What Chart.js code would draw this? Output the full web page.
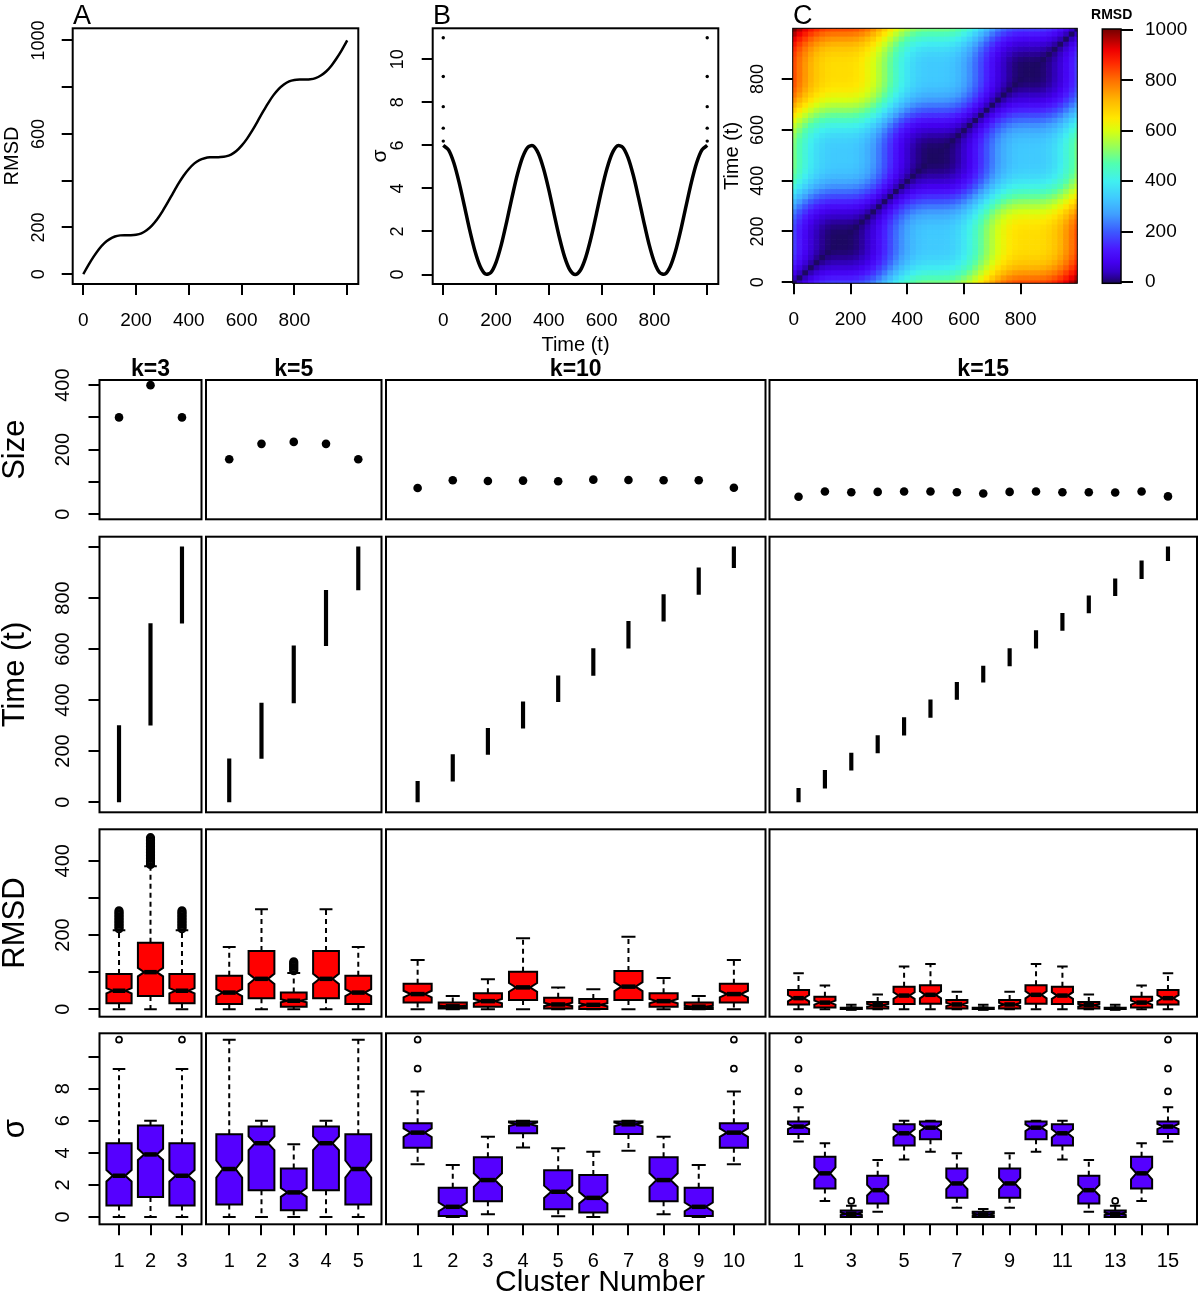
<!DOCTYPE html>
<html>
<head>
<meta charset="utf-8">
<title>Cluster analysis of a simulated trajectory</title>
<script src="https://cdn.jsdelivr.net/npm/chart.js@4.4.1/dist/chart.umd.min.js"></script>
<style>
  html, body { margin: 0; padding: 0; background: #fff; }
  #page { position: relative; width: 1200px; height: 1300px; overflow: hidden; background: #fff; }
  #page canvas { position: absolute; }
</style>
</head>
<body>
<div id="page"></div>
<script>
// ---------- values ----------
// panels A/B: frames sampled every 20 time steps
const timeGrid = [0, 20, 40, 60, 80, 100, 120, 140, 160, 180, 200, 220, 240, 260, 280, 300, 320, 340, 360, 380,
  400, 420, 440, 460, 480, 500, 520, 540, 560, 580, 600, 620, 640, 660, 680, 700, 720, 740, 760, 780,
  800, 820, 840, 860, 880, 900, 920, 940, 960, 980, 1000];
const rmsdCurve = [0, 40, 76, 108, 133, 150, 161, 166, 167, 167, 169, 175, 188, 208, 235, 269, 307, 347, 386, 421,
  450, 473, 488, 496, 500, 500, 501, 504, 512, 527, 550, 579, 614, 653, 693, 731, 765, 792, 812, 825,
  831, 833, 833, 834, 839, 850, 867, 892, 924, 960, 1000];
const sigmaCurve = [6.00, 5.79, 5.19, 4.28, 3.19, 2.07, 1.09, 0.37, 0.02, 0.09, 0.57, 1.39, 2.44, 3.56, 4.61, 5.43, 5.91, 5.98, 5.63, 4.91,
  3.93, 2.81, 1.72, 0.81, 0.21, 0.00, 0.21, 0.81, 1.72, 2.81, 3.93, 4.91, 5.63, 5.98, 5.91, 5.43, 4.61, 3.56, 2.44, 1.39,
  0.57, 0.09, 0.02, 0.37, 1.09, 2.07, 3.19, 4.28, 5.19, 5.79, 6.00];
const sigmaEdgeTimes = [0, 1000];
const sigmaEdgeDots = [6.2, 6.8, 7.8, 9.2, 11.0];

// cluster numbers (x ticks) and their labels
const clustersK3 = [1, 2, 3];
const clustersK5 = [1, 2, 3, 4, 5];
const clustersK10 = [1, 2, 3, 4, 5, 6, 7, 8, 9, 10];
const clustersK15 = [1, 2, 3, 4, 5, 6, 7, 8, 9, 10, 11, 12, 13, 14, 15];
const clusterLabelsK15 = ['1', '', '3', '', '5', '', '7', '', '9', '', '11', '', '13', '', '15'];

// cluster sizes
const sizeK3 = [300, 400, 300];
const sizeK5 = [170, 218, 224, 218, 170];
const sizeK10 = [81, 105, 103, 104, 102, 107, 106, 105, 105, 82];
const sizeK15 = [54, 70, 68, 69, 70, 70, 68, 64, 69, 70, 68, 68, 67, 70, 55];

// time span of every cluster [first, last]
const timeK3 = [[1, 300], [301, 700], [701, 1000]];
const timeK5 = [[1, 170], [171, 388], [389, 612], [613, 830], [831, 1000]];
const timeK10 = [[1, 81], [82, 186], [187, 289], [290, 393], [394, 495], [496, 602], [603, 708], [709, 813], [814, 918], [919, 1000]];
const timeK15 = [[1, 54], [55, 124], [125, 192], [193, 261], [262, 331], [332, 401], [402, 469], [470, 533],
  [534, 602], [603, 672], [673, 740], [741, 808], [809, 875], [876, 945], [946, 1000]];

// boxplots: [lower whisker, Q1, median, Q3, upper whisker]
const rmsdBoxK3 = [[0, 16, 50, 95, 213], [0, 36, 100, 179, 385], [0, 16, 50, 95, 213]];
const rmsdOutK3 = [
  [217, 221, 225, 229, 233, 237, 241, 245, 249, 253, 257, 261, 265],
  [390, 394, 398, 402, 406, 410, 414, 418, 422, 426, 430, 434, 438, 442, 446, 450, 454, 458, 462],
  [217, 221, 225, 229, 233, 237, 241, 245, 249, 253, 257, 261, 265]];
const rmsdBoxK5 = [[0, 14, 45, 90, 168], [0, 30, 82, 157, 269], [0, 7, 23, 45, 98], [0, 30, 82, 157, 269], [0, 14, 45, 90, 168]];
const rmsdOutK5 = [[], [], [104, 108, 112, 116, 120, 124, 128], [], []];
const rmsdBoxK10 = [[0, 18, 41, 69, 133], [0, 2, 8, 18, 36], [0, 7, 22, 43, 81], [0, 25, 59, 101, 191], [0, 2, 13, 31, 59],
  [0, 1, 12, 28, 54], [0, 25, 61, 103, 195], [0, 7, 22, 43, 84], [0, 1, 7, 18, 36], [0, 18, 41, 69, 133]];
const rmsdOutK10 = [];
const rmsdBoxK15 = [[0, 13, 30, 52, 97], [0, 5, 18, 34, 64], [0, 0.5, 2, 4, 12], [0, 2, 11, 20, 40], [0, 14, 37, 61, 115],
  [0, 15, 39, 65, 122], [0, 2, 13, 25, 47], [0, 0.5, 2, 4, 12], [0, 2, 13, 25, 47], [0, 15, 39, 65, 122],
  [0, 14, 37, 61, 115], [0, 2, 11, 20, 40], [0, 0.5, 2, 4, 12], [0, 5, 18, 34, 64], [0, 13, 30, 52, 97]];
const rmsdOutK15 = [];

const sigmaBoxK3 = [[0, 0.71, 2.57, 4.6, 9.23], [0, 1.25, 3.9, 5.7, 6.0], [0, 0.71, 2.57, 4.6, 9.23]];
const sigmaOutK3 = [[11.06], [], [11.06]];
const sigmaBoxK5 = [[0, 0.78, 2.99, 5.16, 11.06], [0, 1.67, 4.6, 5.64, 6.0], [0, 0.42, 1.53, 3.03, 4.53],
  [0, 1.67, 4.6, 5.64, 6.0], [0, 0.78, 2.99, 5.16, 11.06]];
const sigmaOutK5 = [];
const sigmaBoxK10 = [[3.28, 4.32, 5.26, 5.85, 7.83], [0, 0.06, 0.63, 1.82, 3.24], [0.17, 0.98, 2.3, 3.72, 5.01],
  [4.34, 5.22, 5.78, 5.95, 6.0], [0.04, 0.48, 1.57, 2.92, 4.28], [0, 0.27, 1.19, 2.61, 4.07], [4.13, 5.18, 5.78, 5.95, 6.0],
  [0.17, 0.98, 2.3, 3.72, 5.01], [0, 0.06, 0.63, 1.82, 3.24], [3.28, 4.32, 5.26, 5.85, 7.83]];
const sigmaOutK10 = [[9.25, 11.06], [], [], [], [], [], [], [], [], [9.25, 11.06]];
const sigmaBoxK15 = [[4.7, 5.18, 5.64, 5.95, 6.85], [1.0, 1.78, 2.72, 3.76, 4.6], [0, 0, 0.2, 0.4, 0.7],
  [0.33, 0.84, 1.67, 2.57, 3.55], [3.59, 4.45, 5.22, 5.78, 6.0], [4.07, 4.85, 5.57, 5.95, 6.0], [0.57, 1.19, 2.09, 3.03, 3.97],
  [0, 0, 0.15, 0.33, 0.5], [0.57, 1.19, 2.09, 3.03, 3.97], [4.07, 4.85, 5.57, 5.95, 6.0], [3.59, 4.45, 5.22, 5.78, 6.0],
  [0.33, 0.84, 1.67, 2.57, 3.55], [0, 0, 0.2, 0.4, 0.7], [1.0, 1.78, 2.72, 3.76, 4.6], [4.7, 5.18, 5.64, 5.95, 6.85]];
const sigmaOutK15 = [[7.83, 9.25, 11.06], [], [1.0], [], [], [], [], [], [], [], [], [], [1.0], [], [7.83, 9.25, 11.06]];

// colour ramp of the RMSD matrix
const heatStops = [[0, '#1c0862'], [15, '#280090'], [40, '#3400c6'], [80, '#4400f0'], [130, '#4a18ff'], [200, '#3c5aff'],
  [270, '#40a0ff'], [330, '#40c8ff'], [400, '#40f0f0'], [470, '#50ffb0'], [530, '#90ff60'], [600, '#d8ff10'],
  [650, '#ffe800'], [720, '#ffb800'], [800, '#ff7000'], [870, '#ff2800'], [920, '#f00000'], [1000, '#7a0000']];

// ---------- drawing ----------
const FONT = "'Liberation Sans', Arial, Helvetica, sans-serif";
Chart.defaults.font.family = FONT;
Chart.defaults.color = '#000';
const page = document.getElementById('page');

function hexRgb(h) {
  return [parseInt(h.slice(1, 3), 16), parseInt(h.slice(3, 5), 16), parseInt(h.slice(5, 7), 16)];
}
function heatColor(v) {
  v = Math.max(0, Math.min(1000, v));
  for (let i = 1; i < heatStops.length; i++) {
    if (v <= heatStops[i][0]) {
      const [v0, c0] = heatStops[i - 1], [v1, c1] = heatStops[i];
      const f = (v - v0) / (v1 - v0), a = hexRgb(c0), b = hexRgb(c1);
      return 'rgb(' + a.map((x, k) => Math.round(x + (b[k] - x) * f)).join(',') + ')';
    }
  }
  return heatStops[heatStops.length - 1][1];
}

function drawHeat(chart) {
  const ctx = chart.ctx, a = chart.chartArea, xs = chart.scales.x, ys = chart.scales.y;
  const half = 10;
  ctx.save();
  ctx.beginPath();
  ctx.rect(a.left, a.top, a.right - a.left, a.bottom - a.top);
  ctx.clip();
  timeGrid.forEach((ti, i) => {
    const x0 = xs.getPixelForValue(ti - half), x1 = xs.getPixelForValue(ti + half);
    timeGrid.forEach((tj, j) => {
      const y0 = ys.getPixelForValue(tj + half), y1 = ys.getPixelForValue(tj - half);
      ctx.fillStyle = heatColor(Math.abs(rmsdCurve[i] - rmsdCurve[j]));
      ctx.fillRect(x0, y0, x1 - x0 + 0.7, y1 - y0 + 0.7);
    });
  });
  ctx.restore();
}

function drawColorbar(chart) {
  const ctx = chart.ctx, a = chart.chartArea, ys = chart.scales.y;
  const g = ctx.createLinearGradient(0, ys.getPixelForValue(0), 0, ys.getPixelForValue(1000));
  heatStops.forEach(([v, c]) => g.addColorStop(v / 1000, c));
  ctx.fillStyle = g;
  ctx.fillRect(a.left, a.top, a.right - a.left, a.bottom - a.top);
}

function drawBoxes(chart, bx) {
  const ctx = chart.ctx, xs = chart.scales.x, ys = chart.scales.y;
  const py = v => ys.getPixelForValue(v);
  ctx.save();
  ctx.strokeStyle = '#000';
  bx.stats.forEach((s, i) => {
    const [lo, q1, med, q3, hi] = s;
    const x = i + 1;
    const cx = xs.getPixelForValue(x);
    const hw = xs.getPixelForValue(x + 0.4) - cx;
    const sw = xs.getPixelForValue(x + 0.2) - cx;
    // notch as in R: median +/- 1.58 IQR / sqrt(n)
    const nd = 1.58 * (q3 - q1) / Math.sqrt(bx.sizes[i]);
    ctx.lineWidth = 2;
    ctx.setLineDash([5, 4]);
    ctx.beginPath();
    ctx.moveTo(cx, py(q3)); ctx.lineTo(cx, py(hi));
    ctx.moveTo(cx, py(q1)); ctx.lineTo(cx, py(lo));
    ctx.stroke();
    ctx.setLineDash([]);
    ctx.beginPath();
    ctx.moveTo(cx - sw, py(hi)); ctx.lineTo(cx + sw, py(hi));
    ctx.moveTo(cx - sw, py(lo)); ctx.lineTo(cx + sw, py(lo));
    ctx.stroke();
    ctx.beginPath();
    ctx.moveTo(cx - hw, py(q1)); ctx.lineTo(cx - hw, py(med - nd)); ctx.lineTo(cx - hw / 2, py(med));
    ctx.lineTo(cx - hw, py(med + nd)); ctx.lineTo(cx - hw, py(q3));
    ctx.lineTo(cx + hw, py(q3)); ctx.lineTo(cx + hw, py(med + nd)); ctx.lineTo(cx + hw / 2, py(med));
    ctx.lineTo(cx + hw, py(med - nd)); ctx.lineTo(cx + hw, py(q1));
    ctx.closePath();
    ctx.fillStyle = bx.fill;
    ctx.fill();
    ctx.stroke();
    ctx.lineWidth = 4.5;
    ctx.beginPath();
    ctx.moveTo(cx - hw / 2, py(med)); ctx.lineTo(cx + hw / 2, py(med));
    ctx.stroke();
    ctx.lineWidth = bx.outW;
    (bx.outliers[i] || []).forEach(v => {
      ctx.beginPath();
      ctx.arc(cx, py(v), bx.outR, 0, Math.PI * 2);
      ctx.stroke();
    });
  });
  ctx.restore();
}

function drawText(ctx, p, t) {
  ctx.save();
  ctx.translate(t.x - p.offX, t.y - p.offY);
  if (t.rot) ctx.rotate(-Math.PI / 2);
  ctx.font = (t.bold ? 'bold ' : '') + t.size + 'px ' + FONT;
  ctx.fillStyle = '#000';
  ctx.textAlign = t.align || 'center';
  ctx.textBaseline = t.base || 'middle';
  ctx.fillText(t.t, 0, 0);
  ctx.restore();
}

const rDecor = {
  id: 'rDecor',
  beforeDatasetsDraw(chart) {
    const p = chart.canvas._panel;
    if (p && p.heat) drawHeat(chart);
    if (p && p.colorbar) drawColorbar(chart);
  },
  afterDatasetsDraw(chart) {
    const p = chart.canvas._panel;
    if (p && p.boxes) drawBoxes(chart, p.boxes);
  },
  afterDraw(chart) {
    const p = chart.canvas._panel;
    if (!p) return;
    const ctx = chart.ctx, a = chart.chartArea;
    if (p.frame) {
      ctx.save();
      ctx.lineWidth = p.frame;
      ctx.strokeStyle = '#000';
      ctx.strokeRect(a.left, a.top, a.right - a.left, a.bottom - a.top);
      ctx.restore();
    }
    // R style y tick labels, turned 90 degrees
    if (p.y.ticks && p.y.off) {
      const ys = chart.scales.y;
      ctx.save();
      ctx.font = (p.y.size || 18) + 'px ' + FONT;
      ctx.fillStyle = '#000';
      ctx.textAlign = 'center';
      ctx.textBaseline = 'middle';
      p.y.ticks.forEach((v, i) => {
        const lab = p.y.labels ? p.y.labels[i] : String(v);
        if (!lab) return;
        ctx.save();
        ctx.translate(a.left - p.y.off, ys.getPixelForValue(v));
        ctx.rotate(-Math.PI / 2);
        ctx.fillText(lab, 0, 0);
        ctx.restore();
      });
      ctx.restore();
    }
    (p.texts || []).forEach(t => drawText(ctx, p, t));
  }
};
Chart.register(rDecor);

function panel(cfg) {
  const b = cfg.box, m = cfg.margin;
  const left = Math.floor(b.l - m.l), top = Math.floor(b.t - m.t);
  const w = Math.ceil(b.r + m.r) - left, h = Math.ceil(b.b + m.b) - top;
  const ml = b.l - left, mt = b.t - top, mr = left + w - b.r, mb = top + h - b.b;
  const c = document.createElement('canvas');
  c.width = w; c.height = h;
  Object.assign(c.style, { left: left + 'px', top: top + 'px', width: w + 'px', height: h + 'px' });
  page.appendChild(c);
  c._panel = Object.assign({ offX: left, offY: top }, cfg);

  const yRight = cfg.y.position === 'right';
  const xShow = !!cfg.x.ticks, yShow = !!cfg.y.ticks;
  const axis = (ax, isX) => {
    const show = !!ax.ticks;
    const o = {
      type: 'linear', min: ax.min, max: ax.max, display: show, offset: false,
      position: isX ? 'bottom' : (ax.position || 'left'),
      ticks: {
        display: isX ? true : !!ax.native, autoSkip: false, maxRotation: 0, minRotation: 0,
        padding: ax.pad !== undefined ? ax.pad : 14, font: { size: ax.size || 18 }, color: '#000',
        callback: (val, idx) => (ax.labels ? ax.labels[idx] : String(val))
      },
      grid: { display: true, offset: false, drawOnChartArea: false, drawTicks: true, tickLength: ax.tickLen || 11, color: '#000', lineWidth: 2 },
      border: { display: false }
    };
    if (show) {
      o.afterBuildTicks = s => { s.ticks = ax.ticks.map(v => ({ value: v })); };
      o.afterFit = s => {
        if (isX) { s.height = mb; s.paddingLeft = 0; s.paddingRight = 0; }
        else { s.width = yRight ? mr : ml; s.paddingTop = 0; s.paddingBottom = 0; }
      };
    }
    return o;
  };

  return new Chart(c, {
    type: 'scatter',
    data: { datasets: cfg.datasets || [] },
    options: {
      responsive: false,
      animation: false,
      events: [],
      layout: {
        autoPadding: false,
        padding: {
          left: yShow && !yRight ? 0 : ml,
          right: yShow && yRight ? 0 : mr,
          top: mt,
          bottom: xShow ? 0 : mb
        }
      },
      plugins: { legend: { display: false }, tooltip: { enabled: false } },
      scales: { x: axis(cfg.x, true), y: axis(cfg.y, false) }
    }
  });
}

// ---------- top row ----------
panel({
  box: { l: 72.7, t: 28.3, r: 358.3, b: 284 }, margin: { l: 72.7, t: 28.3, r: 8, b: 52 },
  x: { min: -40, max: 1042, ticks: [0, 200, 400, 600, 800, 1000], labels: ['0', '200', '400', '600', '800', ''], size: 19 },
  y: { min: -42, max: 1052, ticks: [0, 200, 400, 600, 800, 1000], labels: ['0', '200', '', '600', '', '1000'], off: 33.7, size: 18 },
  frame: 2,
  datasets: [{
    data: timeGrid.map((t, i) => ({ x: t, y: rmsdCurve[i] })), showLine: true, borderColor: '#000',
    borderWidth: 2.5, pointRadius: 0, tension: 0.3
  }],
  texts: [
    { t: 'A', x: 73, y: 24, size: 27, align: 'left', base: 'alphabetic' },
    { t: 'RMSD', x: 12.5, y: 156, size: 20, rot: true }
  ]
});

panel({
  box: { l: 432.7, t: 28.3, r: 718.3, b: 284 }, margin: { l: 64, t: 28.3, r: 3, b: 72 },
  x: { min: -40, max: 1042, ticks: [0, 200, 400, 600, 800, 1000], labels: ['0', '200', '400', '600', '800', ''], size: 19 },
  y: { min: -0.44, max: 11.44, ticks: [0, 2, 4, 6, 8, 10], off: 35, size: 18 },
  frame: 2,
  datasets: [
    {
      data: timeGrid.map((t, i) => ({ x: t, y: sigmaCurve[i] })), showLine: true, borderColor: '#000',
      borderWidth: 3.5, pointRadius: 0, tension: 0.3
    },
    {
      data: sigmaEdgeTimes.flatMap(t => sigmaEdgeDots.map(v => ({ x: t, y: v }))),
      pointRadius: 1.7, pointBackgroundColor: '#000', pointBorderWidth: 0
    }
  ],
  texts: [
    { t: 'B', x: 433, y: 24, size: 27, align: 'left', base: 'alphabetic' },
    { t: 'σ', x: 380, y: 156, size: 21, rot: true },
    { t: 'Time (t)', x: 575.5, y: 345, size: 20 }
  ]
});

panel({
  box: { l: 792.7, t: 28.3, r: 1077.3, b: 283.3 }, margin: { l: 70, t: 28.3, r: 3, b: 52 },
  x: { min: -4, max: 1000, ticks: [0, 200, 400, 600, 800], size: 19 },
  y: { min: -4, max: 1000, ticks: [0, 200, 400, 600, 800], off: 35, size: 18 },
  frame: 1, heat: true,
  texts: [
    { t: 'C', x: 793, y: 24, size: 27, align: 'left', base: 'alphabetic' },
    { t: 'Time (t)', x: 732.5, y: 156, size: 20, rot: true }
  ]
});

panel({
  box: { l: 1102.3, t: 29, r: 1121, b: 283.3 }, margin: { l: 22, t: 29, r: 78, b: 6 },
  x: { min: 0, max: 1 },
  y: { min: -5, max: 1004, ticks: [0, 200, 400, 600, 800, 1000], position: 'right', native: true, pad: 12, tickLen: 12, size: 19 },
  frame: 1.5, colorbar: true,
  texts: [{ t: 'RMSD', x: 1111.7, y: 15, size: 14, bold: true }]
});

// ---------- cluster grid ----------
const cols = [
  { k: 3, l: 99.5, r: 201.5, min: 0.38, max: 3.62, ticks: clustersK3, labels: null, size: sizeK3, time: timeK3,
    rmsd: rmsdBoxK3, rmsdOut: rmsdOutK3, sigma: sigmaBoxK3, sigmaOut: sigmaOutK3 },
  { k: 5, l: 206, r: 381.5, min: 0.28, max: 5.72, ticks: clustersK5, labels: null, size: sizeK5, time: timeK5,
    rmsd: rmsdBoxK5, rmsdOut: rmsdOutK5, sigma: sigmaBoxK5, sigmaOut: sigmaOutK5 },
  { k: 10, l: 386, r: 765.5, min: 0.1, max: 10.9, ticks: clustersK10, labels: null, size: sizeK10, time: timeK10,
    rmsd: rmsdBoxK10, rmsdOut: rmsdOutK10, sigma: sigmaBoxK10, sigmaOut: sigmaOutK10 },
  { k: 15, l: 769.5, r: 1197, min: -0.1, max: 16.1, ticks: clustersK15, labels: clusterLabelsK15, size: sizeK15, time: timeK15,
    rmsd: rmsdBoxK15, rmsdOut: rmsdOutK15, sigma: sigmaBoxK15, sigmaOut: sigmaOutK15 }
];
const rows = [
  { key: 'size', t: 380, b: 519.3, min: -16, max: 416, ticks: [0, 100, 200, 300, 400], labels: ['0', '', '200', '', '400'], title: 'Size' },
  { key: 'time', t: 536.7, b: 812.3, min: -40, max: 1040, ticks: [0, 200, 400, 600, 800, 1000], labels: ['0', '200', '400', '600', '800', ''], title: 'Time (t)' },
  { key: 'rmsd', t: 829.3, b: 1016.7, min: -19.9, max: 484.5, ticks: [0, 100, 200, 300, 400], labels: ['0', '', '200', '', '400'], title: 'RMSD' },
  { key: 'sigma', t: 1033.3, b: 1224.3, min: -0.46, max: 11.46, ticks: [0, 2, 4, 6, 8, 10], labels: ['0', '2', '4', '6', '8', ''], title: 'σ' }
];

rows.forEach((row, ri) => {
  cols.forEach((col, ci) => {
    const first = ci === 0, last = ri === rows.length - 1;
    let datasets = [], boxes = null;
    if (row.key === 'size') {
      datasets = [{ data: col.ticks.map((x, i) => ({ x, y: col.size[i] })), pointRadius: 4.3, pointBackgroundColor: '#000', pointBorderWidth: 0 }];
    } else if (row.key === 'time') {
      datasets = [{ type: 'bar', data: col.ticks.map((x, i) => ({ x, y: col.time[i] })), backgroundColor: '#000', barThickness: 3.5, borderWidth: 0 }];
    } else if (row.key === 'rmsd') {
      boxes = { stats: col.rmsd, outliers: col.rmsdOut, sizes: col.size, fill: '#ff0000', outR: 3.6, outW: 2 };
    } else {
      boxes = { stats: col.sigma, outliers: col.sigmaOut, sizes: col.size, fill: '#5500ff', outR: 3, outW: 1.7 };
    }
    const texts = [];
    if (ri === 0) texts.push({ t: 'k=' + col.k, x: (col.l + col.r) / 2, y: 370, size: 23, bold: true });
    if (first) texts.push({ t: row.title, x: 15, y: (row.t + row.b) / 2, size: 31, rot: true });
    if (last && ci === 2) texts.push({ t: 'Cluster Number', x: 600, y: 1283, size: 30 });
    panel({
      box: { l: col.l, r: col.r, t: row.t, b: row.b },
      margin: { l: first ? col.l : 3, t: ri === 0 ? 32 : 3, r: 2, b: last ? 75 : 3 },
      x: last ? { min: col.min, max: col.max, ticks: col.ticks, labels: col.labels, size: 20 } : { min: col.min, max: col.max },
      y: first ? { min: row.min, max: row.max, ticks: row.ticks, labels: row.labels, off: 36, size: 20 } : { min: row.min, max: row.max },
      frame: 2,
      datasets, boxes, texts
    });
  });
});
</script>
</body>
</html>
